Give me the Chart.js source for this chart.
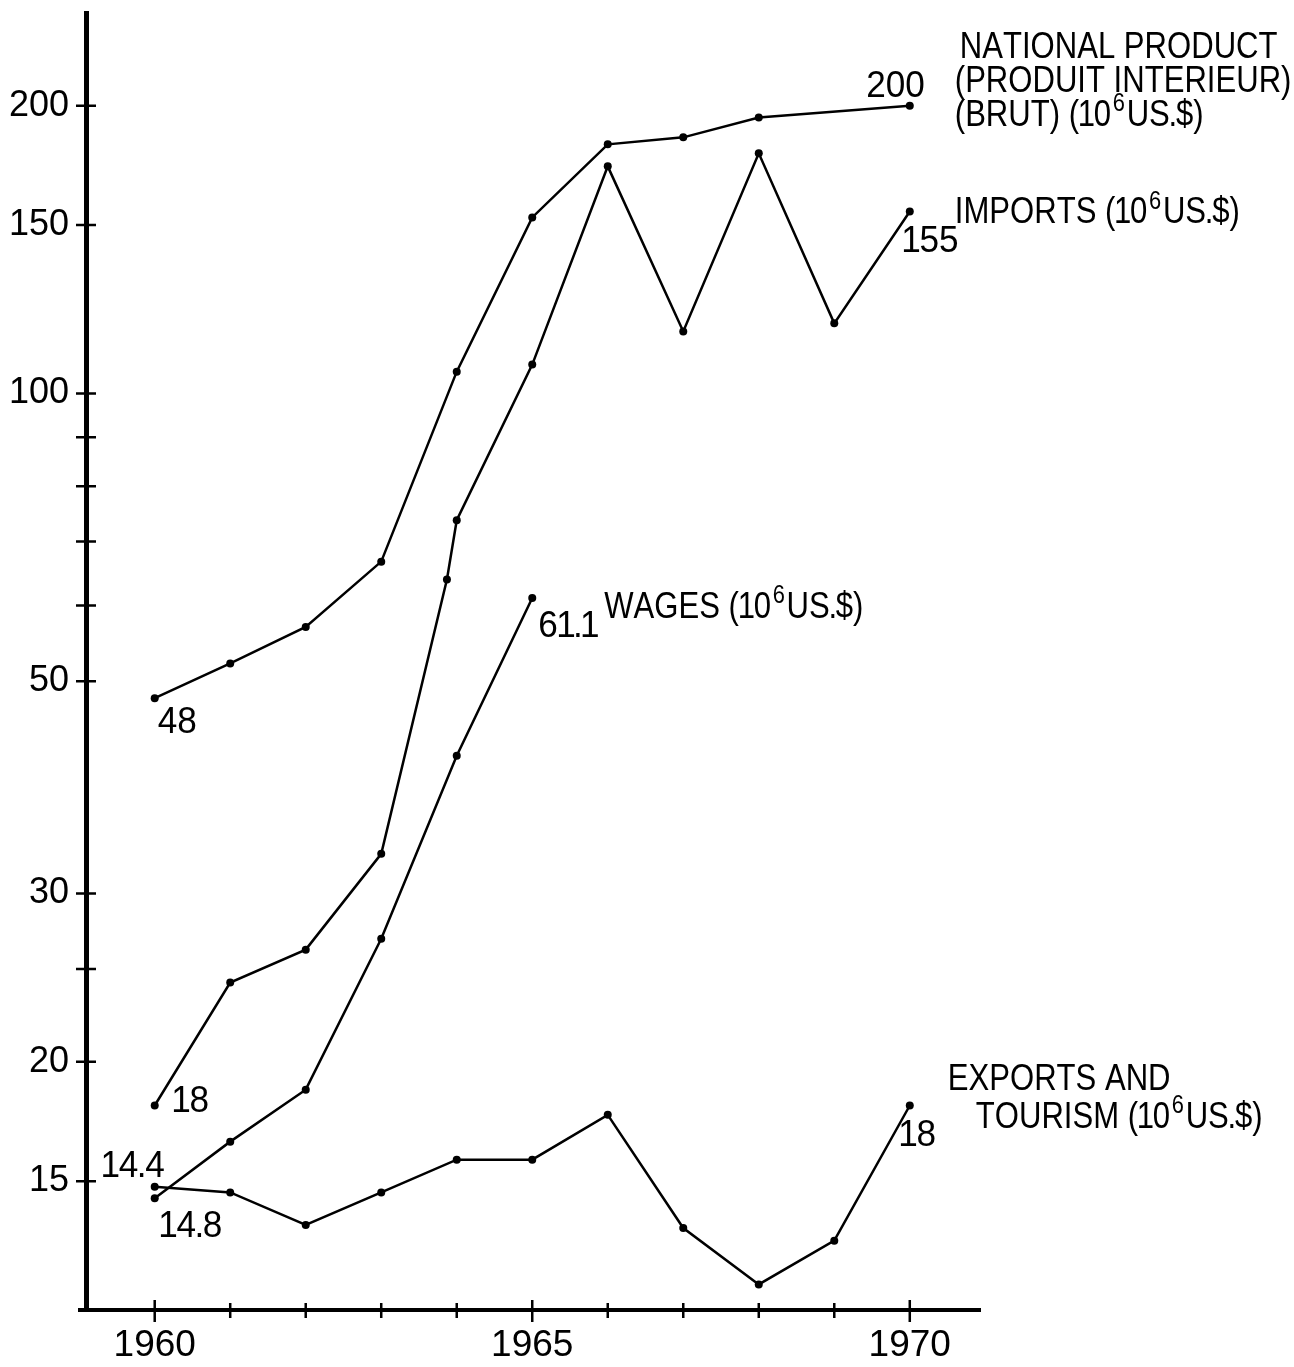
<!DOCTYPE html>
<html>
<head>
<meta charset="utf-8">
<script src="https://cdn.jsdelivr.net/npm/chart.js@4.4.1/dist/chart.umd.min.js"></script>
<style>
  html, body { margin: 0; padding: 0; background: #fff; }
  canvas { display: block; }
</style>
</head>
<body>
<canvas id="canvas" width="1294" height="1367"></canvas>
<script>
// values, in 10^6 US$ (log scale)
var years = [1960, 1961, 1962, 1963, 1964, 1965, 1966, 1967, 1968, 1969, 1970];

var productYears = [1960, 1961, 1962, 1963, 1964, 1965, 1966, 1967, 1968, 1970];
var productValues = [48, 52.2, 57.0, 66.7, 105.4, 152.8, 182.2, 185.3, 194.4, 200];

var importYears = [1960, 1961, 1962, 1963, 1963.87, 1964, 1965, 1966, 1967, 1968, 1969, 1970];
var importValues = [18, 24.2, 26.2, 33.0, 63.9, 73.7, 107.2, 172.8, 116.1, 178.3, 118.4, 155];

var wageYears = [1960, 1961, 1962, 1963, 1964, 1965];
var wageValues = [14.4, 16.5, 18.7, 26.9, 41.8, 61.1];

var exportYears = years;
var exportValues = [14.8, 14.6, 13.5, 14.6, 15.8, 15.8, 17.6, 13.4, 11.7, 13.0, 18];

// axis ticks
var xTickValues = years;
var xTickLabels = [1960, 1965, 1970];
var yTickValues = [15, 20, 25, 30, 50, 60, 70, 80, 90, 100, 150, 200];
var yTickLabels = [15, 20, 30, 50, 100, 150, 200];

// hand written notes, anchored on a data point ('^' = next char is superscript)
var notes = [
  { text: '48', year: 1960, value: 48, dx: 3, dy: 35 },
  { text: '18', year: 1960, value: 18, dx: 18, dy: 6 },
  { text: '14.4', year: 1960, value: 14.4, dx: 10, dy: -21, align: 'right' },
  { text: '14.8', year: 1960, value: 14.8, dx: 5, dy: 50 },
  { text: '61.1', year: 1965, value: 61.1, dx: 6, dy: 39 },
  { text: 'WAGES (10^6US.$)', year: 1965, value: 61.1, dx: 72, dy: 20, word: true },
  { text: '200', year: 1970, value: 200, dx: 15, dy: -9, align: 'right' },
  { text: 'NATIONAL PRODUCT', year: 1970, value: 200, dx: 50, dy: -48, word: true },
  { text: '(PRODUIT INTERIEUR)', year: 1970, value: 200, dx: 45, dy: -14, word: true },
  { text: '(BRUT) (10^6US.$)', year: 1970, value: 200, dx: 45, dy: 20, word: true },
  { text: 'IMPORTS (10^6US.$)', year: 1970, value: 155, dx: 45, dy: 12, word: true },
  { text: '155', year: 1970, value: 155, dx: -7, dy: 41 },
  { text: 'EXPORTS AND', year: 1970, value: 18, dx: 38, dy: -16, word: true },
  { text: 'TOURISM (10^6US.$)', year: 1970, value: 18, dx: 66, dy: 22, word: true },
  { text: '18', year: 1970, value: 18, dx: -10, dy: 40 }
];

var FONT = "'Liberation Sans', Arial, sans-serif";

var toPoints = (xs, ys) => xs.map((x, i) => ({ x: x, y: ys[i] }));

var makeSet = (xs, ys) => ({
  data: toPoints(xs, ys),
  borderColor: '#000',
  backgroundColor: '#000',
  borderWidth: 2.5,
  pointRadius: 4,
  pointBorderWidth: 0,
  pointBackgroundColor: '#000',
  tension: 0,
  clip: false
});

// hand lettering: narrow '1' and tight decimal point
var trim = { '1': 3, '.': 3 };

// draw a note char by char, '^' raises the next char
function drawNote(ctx, text, x, y, size, sx, align) {
  var chars = [];
  for (var i = 0; i < text.length; i++) {
    if (text[i] === '^') { chars.push({ c: text[i + 1], sup: true }); i++; }
    else chars.push({ c: text[i], sup: false });
  }
  var supSize = Math.round(size * 0.7);
  var total = 0;
  chars.forEach(ch => {
    ctx.font = (ch.sup ? supSize : size) + 'px ' + FONT;
    ch.w = ctx.measureText(ch.c).width;
    ch.t = trim[ch.c] || 0;
    if (ch.sup) ch.t = -4;
    total += ch.w - ch.t;
  });
  ctx.save();
  ctx.translate(x, y);
  ctx.scale(sx, 1);
  var cx = align === 'right' ? -total : 0;
  ctx.textBaseline = 'alphabetic';
  ctx.textAlign = 'left';
  chars.forEach(ch => {
    ctx.font = (ch.sup ? supSize : size) + 'px ' + FONT;
    ctx.fillText(ch.c, cx - ch.t / 2, ch.sup ? -size * 0.4 : 0);
    cx += ch.w - ch.t;
  });
  ctx.restore();
}

// tick marks that cross the axis lines
var crossTicks = {
  id: 'crossTicks',
  afterDraw: chart => {
    var ctx = chart.ctx;
    var xs = chart.scales.x, ys = chart.scales.y;
    var area = chart.chartArea;
    ctx.save();
    ctx.strokeStyle = '#000';
    ctx.lineWidth = 2.5;
    ctx.beginPath();
    xTickValues.forEach(v => {
      var px = xs.getPixelForValue(v);
      var big = xTickLabels.indexOf(v) >= 0;
      ctx.moveTo(px, area.bottom - (big ? 10 : 7));
      ctx.lineTo(px, area.bottom + (big ? 12 : 8));
    });
    yTickValues.forEach(v => {
      var py = ys.getPixelForValue(v);
      ctx.moveTo(area.left - 10, py);
      ctx.lineTo(area.left + 10, py);
    });
    ctx.stroke();
    // x axis runs a little past the y axis
    ctx.lineWidth = 4;
    ctx.beginPath();
    ctx.moveTo(area.left - 8, area.bottom);
    ctx.lineTo(area.left, area.bottom);
    ctx.stroke();
    ctx.restore();
  }
};

var notesPlugin = {
  id: 'notes',
  afterDraw: chart => {
    var ctx = chart.ctx;
    var xs = chart.scales.x, ys = chart.scales.y;
    ctx.save();
    ctx.fillStyle = '#000';
    notes.forEach(n => {
      var px = xs.getPixelForValue(n.year) + n.dx;
      var py = ys.getPixelForValue(n.value) + n.dy;
      drawNote(ctx, n.text, px, py, 37, n.word ? 0.84 : 0.95, n.align);
    });
    ctx.restore();
  }
};

var config = {
  type: 'line',
  data: {
    datasets: [
      makeSet(productYears, productValues),
      makeSet(importYears, importValues),
      makeSet(wageYears, wageValues),
      makeSet(exportYears, exportValues)
    ]
  },
  options: {
    responsive: false,
    animation: false,
    devicePixelRatio: 1,
    layout: { padding: { top: 13, right: 314, left: 0, bottom: 0 } },
    plugins: {
      legend: { display: false },
      tooltip: { enabled: false }
    },
    scales: {
      x: {
        type: 'linear',
        position: 'bottom',
        min: 1959.09,
        max: 1970.93,
        grid: { display: false },
        border: { display: true, color: '#000', width: 4 },
        afterBuildTicks: s => { s.ticks = xTickValues.map(v => ({ value: v })); },
        afterFit: s => { s.height = 57; s.paddingLeft = 0; s.paddingRight = 0; },
        ticks: {
          autoSkip: false,
          maxRotation: 0,
          padding: 6,
          color: '#000',
          font: { family: FONT, size: 37 },
          callback: v => (xTickLabels.indexOf(v) >= 0 ? String(v) : '')
        }
      },
      y: {
        type: 'logarithmic',
        position: 'left',
        min: 11,
        max: 250,
        grid: { display: false },
        border: { display: true, color: '#000', width: 5 },
        afterBuildTicks: s => { s.ticks = yTickValues.map(v => ({ value: v })); },
        afterFit: s => { s.width = 86; s.paddingTop = 0; s.paddingBottom = 0; },
        ticks: {
          autoSkip: false,
          padding: 9,
          color: '#000',
          font: { family: FONT, size: 36 },
          callback: v => (yTickLabels.indexOf(v) >= 0 ? String(v) : '')
        }
      }
    }
  },
  plugins: [crossTicks, notesPlugin]
};

new Chart(document.getElementById('canvas'), config);
</script>
</body>
</html>
